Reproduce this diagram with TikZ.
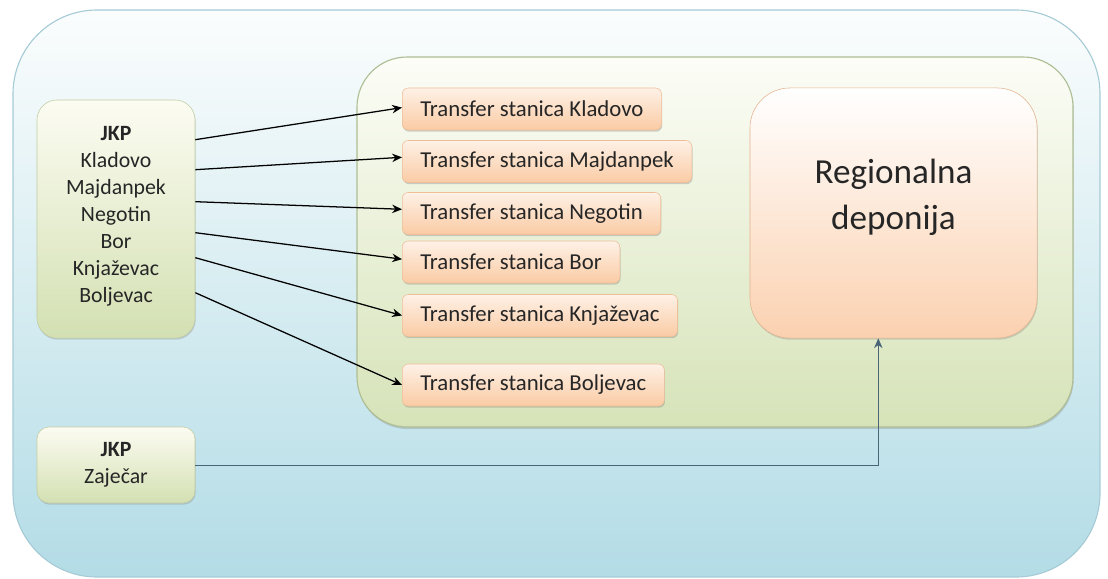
\documentclass[tikz,border=0pt]{standalone}
\usepackage{fontspec}
\setmainfont{Carlito}
\usetikzlibrary{arrows.meta,positioning,calc,shadows}

\definecolor{txtgray}{HTML}{262626}
\definecolor{outtop}{HTML}{FBFDFD}
\definecolor{outmid}{HTML}{E2F1F5}
\definecolor{outbot}{HTML}{B3DCE6}
\definecolor{outline}{HTML}{A6CBD6}
\definecolor{grntop}{HTML}{FCFDF7}
\definecolor{grnbot}{HTML}{D6E3B8}
\definecolor{grnline}{HTML}{AEBD94}
\definecolor{jkptop}{HTML}{FCFCF2}
\definecolor{jkpbot}{HTML}{D3E0B2}
\definecolor{jkpline}{HTML}{C2CCA2}
\definecolor{tstop}{HTML}{FEF1E6}
\definecolor{tsbot}{HTML}{FACBA4}
\definecolor{tsline}{HTML}{EDBE98}
\definecolor{deptop}{HTML}{FFFFFF}
\definecolor{depbot}{HTML}{FBD1B0}
\definecolor{depline}{HTML}{E3B48F}
\definecolor{zajline}{HTML}{4A6577}

\tikzset{
  jkpbox/.style={draw=jkpline, rounded corners=0.5cm, top color=jkptop, bottom color=jkpbot,
    align=center, text=txtgray, font=\fontsize{15.5}{19.2}\selectfont,
    drop shadow={shadow xshift=0.5pt,shadow yshift=-1.2pt,opacity=0.3}},
  tsbox/.style={draw=tsline, rounded corners=0.15cm, top color=tstop, bottom color=tsbot,
    minimum height=1.05cm, inner xsep=0.45cm, anchor=west, text=txtgray,
    font=\fontsize{16.2}{18}\selectfont,
    drop shadow={shadow xshift=0.5pt,shadow yshift=-1.2pt,opacity=0.35}},
  depbox/.style={draw=depline, rounded corners=1cm, top color=deptop, bottom color=depbot,
    minimum width=7.175cm, minimum height=6.25cm, align=center, text=txtgray,
    font=\fontsize{25}{32.5}\selectfont,
    drop shadow={shadow xshift=0.5pt,shadow yshift=-1.2pt,opacity=0.3}},
  feed/.style={->, line width=0.9pt, black},
}

\begin{document}
\begin{tikzpicture}[x=0.025cm,y=-0.025cm,>={Stealth[length=7pt,width=6pt]}]
  \useasboundingbox (0,0) rectangle (1108,578);

  % Background panels
  \path[draw=outline, line width=0.8pt, rounded corners=2.1cm,
        top color=outtop, middle color=outmid, bottom color=outbot]
    (13,10) rectangle (1100,577);
  \path[draw=grnline, line width=0.8pt, rounded corners=1.25cm,
        top color=grntop, bottom color=grnbot,
        drop shadow={shadow xshift=0.5pt,shadow yshift=-1.5pt,opacity=0.3}]
    (357,57) rectangle (1073,427);

  % Utility companies
  \node[jkpbox, minimum width=3.95cm, minimum height=5.95cm] (jkp) at (116,219)
    {\textbf{JKP}\\Kladovo\\Majdanpek\\Negotin\\Bor\\Knjaževac\\Boljevac\\[-12pt]};
  \node[jkpbox, rounded corners=0.3cm, minimum width=3.95cm, minimum height=1.9cm] (zaj) at (116,465)
    {\textbf{JKP}\\Zaječar};

  % Transfer stations
  \node[tsbox] (tsKla) at (402,109)   {Transfer stanica Kladovo};
  \node[tsbox] (tsMaj) at (402,161.5) {Transfer stanica Majdanpek};
  \node[tsbox] (tsNeg) at (402,213.5) {Transfer stanica Negotin};
  \node[tsbox] (tsBor) at (402,262)   {Transfer stanica Bor};
  \node[tsbox] (tsKnj) at (402,315.5) {Transfer stanica Knjaževac};
  \node[tsbox] (tsBol) at (402,385)   {Transfer stanica Boljevac};

  % Regional landfill
  \node[depbox] (dep) at (893.5,213) {Regionalna\\deponija\\[-6pt]};

  % Outlets on the right side of the JKP box
  \coordinate (oKla) at ($(jkp.north east)+(0,40)$);
  \coordinate (oMaj) at ($(jkp.north east)+(0,70)$);
  \coordinate (oNeg) at ($(jkp.north east)+(0,102)$);
  \coordinate (oBor) at ($(jkp.north east)+(0,133)$);
  \coordinate (oKnj) at ($(jkp.north east)+(0,158)$);
  \coordinate (oBol) at ($(jkp.north east)+(0,193)$);

  % Waste flows to transfer stations
  \draw[feed] (oKla) -- ([yshift=1pt]tsKla.west);
  \draw[feed] (oMaj) -- ([yshift=3pt]tsMaj.west);
  \draw[feed] (oNeg) -- ([yshift=3pt]tsNeg.west);
  \draw[feed] (oBor) -- ([yshift=2pt]tsBor.west);
  \draw[feed] (oKnj) -- (tsKnj.west);
  \draw[feed] (oBol) -- (tsBol.west);

  % Zaječar goes straight to the landfill
  \draw[->, line width=0.6pt, zajline] (zaj.east) -| ([xshift=-0.38cm]dep.south);
\end{tikzpicture}
\end{document}
